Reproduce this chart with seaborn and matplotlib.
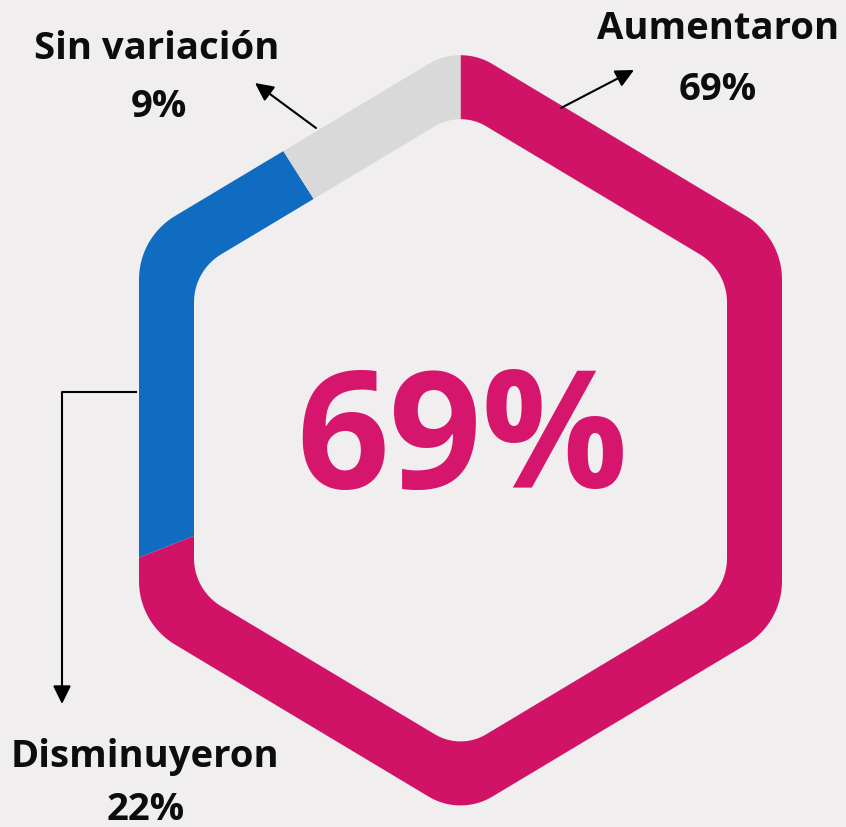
import numpy as np
import matplotlib
matplotlib.use("Agg")
import matplotlib.pyplot as plt
from matplotlib.path import Path
from matplotlib.patches import PathPatch
import seaborn as sns

# ---------------- data ----------------
categories = ["Aumentaron", "Disminuyeron", "Sin variación"]
values = [69, 22, 9]
value_labels = ["69%", "22%", "9%"]
colors = ["#D11367", "#106CC0", "#D9D9D9"]
center_label = "69%"

BG = "#F0EEEF"
sns.set_theme(style="white", rc={"figure.facecolor": BG, "axes.facecolor": BG,
                                 "savefig.facecolor": BG})
plt.rcParams["font.family"] = ["Open Sans", "DejaVu Sans"]

W_PX, H_PX = 846, 828
fig = plt.figure(figsize=(8.46, 8.28), dpi=100)
ax = fig.add_axes([0, 0, 1, 1])


def Y(y_img):
    return H_PX - y_img


cx, cy = 460.5, Y(431.3)


def rounded_poly(verts, radii, n=28):
    pts = []
    m = len(verts)
    for i in range(m):
        P = np.array(verts[i - 1], float)
        V = np.array(verts[i], float)
        N = np.array(verts[(i + 1) % m], float)
        d1 = (P - V) / np.linalg.norm(P - V)
        d2 = (N - V) / np.linalg.norm(N - V)
        half = np.arccos(np.clip(np.dot(d1, d2), -1, 1)) / 2
        r = radii[i]
        t = r / np.tan(half)
        T1 = V + d1 * t
        T2 = V + d2 * t
        bis = (d1 + d2) / np.linalg.norm(d1 + d2)
        C = V + bis * r / np.sin(half)
        a1 = np.arctan2(T1[1] - C[1], T1[0] - C[0])
        a2 = np.arctan2(T2[1] - C[1], T2[0] - C[0])
        da = (a2 - a1 + np.pi) % (2 * np.pi) - np.pi
        for s in np.linspace(0, 1, n):
            a = a1 + da * s
            pts.append(C + r * np.array([np.cos(a), np.sin(a)]))
    return np.array(pts)


def hexagon(W, H, h):
    return [(cx, cy + H), (cx + W, cy + h), (cx + W, cy - h),
            (cx, cy - H), (cx - W, cy - h), (cx - W, cy + h)]


outer = rounded_poly(hexagon(321.5, 385.4, 192.7), [62, 74, 74, 62, 74, 74])
inner = rounded_poly(hexagon(266.5, 319.4, 159.7), [50, 56, 56, 50, 56, 56])

# pie (library wedges), then a background-coloured mask leaves only the ring
wedges, _ = ax.pie(values, colors=colors, startangle=90, counterclock=False,
                   radius=450, center=(cx, cy),
                   wedgeprops=dict(linewidth=0, edgecolor="none"))

rect = np.array([[-100, -100], [W_PX + 100, -100], [W_PX + 100, H_PX + 100],
                 [-100, H_PX + 100]], float)
inner_r = inner[::-1]
parts = [rect, outer, inner_r]
verts, codes = [], []
for p in parts:
    verts.extend(p.tolist())
    verts.append(p[0].tolist())
    codes.extend([Path.MOVETO] + [Path.LINETO] * (len(p) - 1) + [Path.CLOSEPOLY])
mask = PathPatch(Path(np.array(verts), codes), facecolor=BG, edgecolor="none",
                 lw=0, zorder=3)
ax.add_patch(mask)

ax.set_xlim(0, W_PX)
ax.set_ylim(0, H_PX)
ax.set_aspect("equal")
ax.axis("off")

# ---------------- texts ----------------
ax.text(462.5, Y(488), center_label, ha="center", va="baseline",
        fontsize=117, fontweight="bold", color="#D6156C", zorder=5)

lab_kw = dict(ha="center", va="baseline", fontsize=27.5, fontweight="bold",
              color="#0D0D0D", zorder=5)
ax.text(718.5, Y(39), categories[0], **lab_kw)
ax.text(717.5, Y(100), value_labels[0], **lab_kw)
ax.text(145, Y(766.7), categories[1], **lab_kw)
ax.text(146, Y(820), value_labels[1], **lab_kw)
ax.text(156.5, Y(59.3), categories[2], **lab_kw)
ax.text(159, Y(116.7), value_labels[2], **lab_kw)

# ---------------- arrows ----------------
arrow_kw = dict(arrowstyle="-|>,head_length=0.55,head_width=0.27",
                color="black", lw=1.5, mutation_scale=20,
                shrinkA=0, shrinkB=0)
ax.annotate("", xy=(634, Y(71)), xytext=(561, Y(109)), arrowprops=arrow_kw,
            zorder=6)
ax.annotate("", xy=(255, Y(84)), xytext=(316, Y(129)), arrowprops=arrow_kw,
            zorder=6)
ax.plot([137, 62], [Y(393), Y(393)], color="black", lw=1.5,
        solid_capstyle="butt", zorder=6)
ax.annotate("", xy=(62, Y(705)), xytext=(62, Y(393)), arrowprops=arrow_kw,
            zorder=6)

fig.savefig("out.png", dpi=100, facecolor=BG)
